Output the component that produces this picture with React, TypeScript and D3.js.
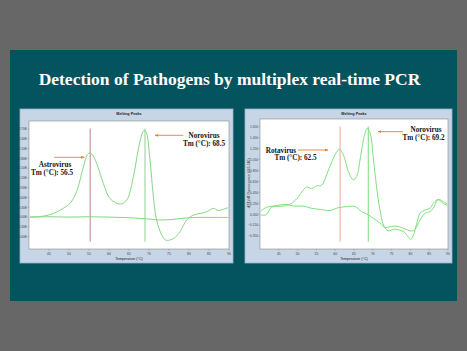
import React from "react";
import * as d3 from "d3";

const W = 467;
const H = 351;

const titleText = "Detection of Pathogens by multiplex real-time PCR";
const chartTitle = "Melting Peaks";
const xAxisTitle = "Temperature (°C)";
const rightYAxisTitle = "-d(F1)/dT Fluorescence (465-510)";

const tempTicks = [45, 50, 55, 60, 65, 70, 75, 80, 85, 90];
const leftYTicks = [2.7, 2.4, 2.1, 1.8, 1.5, 1.2, 0.9, 0.6, 0.3, 0, -0.3, -0.6];
const rightYTicks = [1.65, 1.45, 1.25, 1.05, 0.85, 0.65, 0.45, 0.25, 0.05, -0.15, -0.35];

// Left chart: Astrovirus + Norovirus sample
const leftSampleTemp = [40.25, 43.6, 46.1, 48.6, 50.25, 51.9, 53.6, 54.8, 55.7, 56.9, 58.6, 60.25, 62.75, 64.4, 66.1, 67.3, 68.3, 68.8, 69.4, 70.25, 71.1, 71.9, 73.2, 74.25, 76.1, 77.75, 79.4, 81.1, 82.75, 84.4, 86.1, 87.3, 88.6, 89.8];
const leftSampleVal = [0, 0.03, 0.11, 0.27, 0.42, 0.78, 1.54, 1.95, 1.94, 1.65, 1.03, 0.57, 0.4, 0.52, 1.24, 2.06, 2.57, 2.67, 2.57, 1.75, 0.62, -0.09, -0.55, -0.71, -0.66, -0.45, -0.09, 0.06, 0.11, 0.16, 0.27, 0.2, 0.24, 0.29];
// Left chart: negative control
const leftControlTemp = [40.25, 45, 50, 55, 60, 65, 70, 73, 76, 79, 82, 86, 90];
const leftControlVal = [0, 0.01, 0, 0.01, 0, -0.02, -0.06, -0.09, -0.07, -0.03, -0.01, -0.01, -0.01];

// Right chart: Rotavirus + Norovirus sample
const rightSampleTemp = [40.2, 41.6, 43.1, 46.2, 48.4, 50.2, 51.5, 52.4, 53.7, 55.1, 56.4, 57.7, 59.1, 60.4, 61.1, 62.2, 63.5, 64.8, 65.7, 66.6, 67.7, 68.5, 69.3, 70.1, 71.0, 71.9, 73.0, 74.1, 75.9, 77.2, 78.3, 79.4, 80.1, 80.8, 81.7, 82.6, 83.9, 85.2, 86.1, 87.0, 87.7, 88.8, 89.8];
const rightSampleVal = [0.04, 0.04, 0.18, 0.2, 0.25, 0.37, 0.49, 0.55, 0.52, 0.57, 0.58, 0.77, 1.01, 1.19, 1.24, 1.13, 0.83, 0.68, 0.74, 1.04, 1.47, 1.62, 1.53, 1.1, 0.55, 0.13, -0.17, -0.25, -0.22, -0.24, -0.27, -0.36, -0.41, -0.33, -0.11, 0.07, 0.13, 0.16, 0.25, 0.31, 0.32, 0.28, 0.24];
// Right chart: control
const rightControlTemp = [40.2, 41.8, 43.5, 45.3, 47.1, 48.9, 51.5, 53.7, 56.0, 58.6, 60.8, 63.0, 65.3, 67.0, 68.8, 70.1, 71.9, 73.2, 75.0, 76.8, 78.6, 80.8, 82.6, 83.9, 85.2, 86.1, 87.2, 87.9, 88.9, 89.8];
const rightControlVal = [0.11, 0.18, 0.2, 0.22, 0.23, 0.2, 0.2, 0.16, 0.14, 0.12, 0.17, 0.19, 0.19, 0.1, 0.04, -0.02, -0.11, -0.19, -0.17, -0.17, -0.22, -0.25, -0.05, 0.07, 0.1, 0.16, 0.31, 0.3, 0.24, 0.22];

// Tm marker lines [temperature, top value, bottom value]
const leftMarkers = [
  { t: 55.3, top: 2.72, bottom: -0.76, color: "#c98e8e" },
  { t: 69.0, top: 2.72, bottom: -0.76, color: "#9ad69a" },
];
const rightMarkers = [
  { t: 61.3, top: 1.65, bottom: -0.45, color: "#f5b0a0" },
  { t: 68.8, top: 1.65, bottom: -0.45, color: "#88e088" },
];

type ChartProps = {
  panel: [number, number, number, number];
  plot: [number, number, number, number];
  yDomain: [number, number];
  yTicks: number[];
  yFmt: (v: number) => string;
  series: { t: number[]; v: number[] }[];
  markers: { t: number; top: number; bottom: number; color: string }[];
  yTitle?: string;
  curveColor: string;
};

function Chart({ panel, plot, yDomain, yTicks, yFmt, series, markers, yTitle, curveColor }: ChartProps) {
  const [px0, py0, px1, py1] = panel;
  const [x0, y0, x1, y1] = plot;
  const x = d3.scaleLinear().domain([40, 90]).range([x0, x1]);
  const y = d3.scaleLinear().domain(yDomain).range([y1, y0]);
  const line = d3
    .line<[number, number]>()
    .x((d) => x(d[0]))
    .y((d) => y(d[1]))
    .curve(d3.curveCatmullRom.alpha(0.5));
  const cx = (x0 + x1) / 2;
  return (
    <g>
      <rect x={px0} y={py0} width={px1 - px0} height={py1 - py0} fill="#c6d6e6" stroke="#9fb4c8" strokeWidth={0.8} />
      <text x={cx} y={py0 + 6} fontSize={3.8} fontWeight="bold" textAnchor="middle" fontFamily="Liberation Sans, Arial, sans-serif" fill="#222">
        {chartTitle}
      </text>
      <rect x={x0} y={y0} width={x1 - x0} height={y1 - y0} fill="#ffffff" stroke="#8a8a8a" strokeWidth={0.6} />
      {yTicks.map((v) => (
        <g key={"y" + v}>
          <line x1={x0 - 1.5} x2={x0} y1={y(v)} y2={y(v)} stroke="#777" strokeWidth={0.4} />
          <text x={x0 - 2} y={y(v) + 1.2} fontSize={3.2} textAnchor="end" fontFamily="Liberation Sans, Arial, sans-serif" fill="#444">
            {yFmt(v)}
          </text>
        </g>
      ))}
      {tempTicks.map((t) => (
        <g key={"x" + t}>
          <line x1={x(t)} x2={x(t)} y1={y1} y2={y1 + 1.5} stroke="#777" strokeWidth={0.4} />
          <text x={x(t)} y={y1 + 5.5} fontSize={3.4} textAnchor="middle" fontFamily="Liberation Sans, Arial, sans-serif" fill="#444">
            {t}
          </text>
        </g>
      ))}
      <text x={cx} y={y1 + 10.5} fontSize={3.6} textAnchor="middle" fontFamily="Liberation Sans, Arial, sans-serif" fill="#222">
        {xAxisTitle}
      </text>
      {yTitle && (
        <text
          transform={`translate(${px0 + 5},${(y0 + y1) / 2}) rotate(-90)`}
          fontSize={3.4}
          textAnchor="middle"
          fontFamily="Liberation Sans, Arial, sans-serif"
          fill="#333"
        >
          {yTitle}
        </text>
      )}
      {markers.map((m, i) => (
        <line key={"m" + i} x1={x(m.t)} x2={x(m.t)} y1={y(m.top)} y2={y(m.bottom)} stroke={m.color} strokeWidth={1.1} />
      ))}
      {series.map((s, i) => (
        <path
          key={"s" + i}
          d={line(s.t.map((t, j) => [t, s.v[j]] as [number, number])) || ""}
          fill="none"
          stroke={curveColor}
          strokeWidth={1}
        />
      ))}
    </g>
  );
}

export default function App() {
  const serif = "Liberation Serif, 'Times New Roman', serif";
  const annot = { fontFamily: serif, fontWeight: "bold" as const, fontSize: 7.2, fill: "#151515" };
  return (
    <div style={{ position: "fixed", left: 0, top: 0 }}>
      <svg width={W} height={H} viewBox={`0 0 ${W} ${H}`} style={{ display: "block" }}>
        <defs>
          <marker id="arr" viewBox="0 0 10 10" refX="9" refY="5" markerWidth="4" markerHeight="4" orient="auto-start-reverse">
            <path d="M0,1 L10,5 L0,9 z" fill="#f07a30" />
          </marker>
        </defs>
        <rect x={0} y={0} width={W} height={H} fill="#676767" />
        <rect x={10} y={50} width={447} height={251} fill="#03545f" />
        <text x={229.5} y={85} textAnchor="middle" fontFamily={serif} fontWeight="bold" fontSize={17.5} fill="#ffffff">
          {titleText}
        </text>

        <Chart
          panel={[20, 109, 233, 263]}
          plot={[29, 121, 229, 249]}
          yDomain={[-0.98, 2.95]}
          yTicks={leftYTicks}
          yFmt={(v) => d3.format(".2f")(v) + "E"}
          series={[
            { t: leftControlTemp, v: leftControlVal },
            { t: leftSampleTemp, v: leftSampleVal },
          ]}
          markers={leftMarkers}
          curveColor="#86d686"
        />
        <Chart
          panel={[245, 109, 452, 263]}
          plot={[260, 119, 448, 249]}
          yDomain={[-0.583, 1.789]}
          yTicks={rightYTicks}
          yFmt={(v) => d3.format(".3f")(v)}
          series={[
            { t: rightControlTemp, v: rightControlVal },
            { t: rightSampleTemp, v: rightSampleVal },
          ]}
          markers={rightMarkers}
          yTitle={rightYAxisTitle}
          curveColor="#7fe07f"
        />

        {/* Left annotations */}
        <line x1={54.3} y1={157.3} x2={84.3} y2={157.3} stroke="#f07a30" strokeWidth={0.9} markerEnd="url(#arr)" />
        <text x={55} y={167} textAnchor="middle" {...annot}>Astrovirus</text>
        <text x={52} y={174.5} textAnchor="middle" {...annot}>Tm (°C): 56.5</text>
        <line x1={183.3} y1={135.3} x2={155} y2={135.3} stroke="#f07a30" strokeWidth={0.9} markerEnd="url(#arr)" />
        <text x={204} y={138} textAnchor="middle" {...annot}>Norovirus</text>
        <text x={204} y={145.5} textAnchor="middle" {...annot}>Tm (°C): 68.5</text>

        {/* Right annotations */}
        <line x1={298} y1={150} x2={328} y2={150} stroke="#f07a30" strokeWidth={0.9} markerEnd="url(#arr)" />
        <text x={281} y={152.5} textAnchor="middle" {...annot}>Rotavirus</text>
        <text x={295.5} y={159.5} textAnchor="middle" {...annot}>Tm (°C): 62.5</text>
        <line x1={403} y1={131.7} x2={378} y2={131.7} stroke="#f07a30" strokeWidth={0.9} markerEnd="url(#arr)" />
        <text x={426} y={132} textAnchor="middle" {...annot}>Norovirus</text>
        <text x={423.5} y={139.5} textAnchor="middle" {...annot}>Tm (°C): 69.2</text>
      </svg>
    </div>
  );
}
